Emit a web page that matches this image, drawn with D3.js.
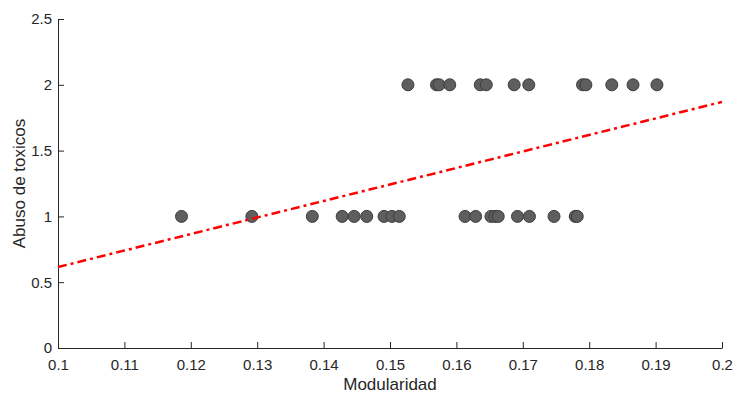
<!DOCTYPE html>
<html>
<head>
<meta charset="utf-8">
<script src="https://cdn.jsdelivr.net/npm/d3@7"></script>
<style>
  body { margin: 0; background: #fff; }
  svg text { font-family: "Liberation Sans", Arial, sans-serif; fill: #262626; }
</style>
</head>
<body>
<div id="chart"></div>
<script>
// modularity values for subjects with score 2
const modHigh = [0.1527, 0.1570, 0.1574, 0.1590, 0.1636, 0.1645, 0.1687, 0.1709,
                 0.1790, 0.1795, 0.1834, 0.1866, 0.1902];
// modularity values for subjects with score 1
const modLow = [0.1186, 0.1292, 0.1383, 0.1428, 0.1446, 0.1465, 0.1491, 0.1503, 0.1514,
                0.1613, 0.1629, 0.1652, 0.1658, 0.1663, 0.1692, 0.1710, 0.1747, 0.1779, 0.1782];
const fitX = [0.1, 0.2];
const fitY = [0.615, 1.87];
const xTicks = [0.1, 0.11, 0.12, 0.13, 0.14, 0.15, 0.16, 0.17, 0.18, 0.19, 0.2];
const yTicks = [0, 0.5, 1, 1.5, 2, 2.5];

const W = 736, H = 394;
const margin = {left: 58, right: 14, top: 19, bottom: 46};

const svg = d3.select('#chart').append('svg')
    .attr('width', W).attr('height', H);

const x = d3.scaleLinear().domain([0.1, 0.2]).range([margin.left, W - margin.right]);
const y = d3.scaleLinear().domain([0, 2.5]).range([H - margin.bottom, margin.top]);

const points = modHigh.map(m => ({m, v: 2})).concat(modLow.map(m => ({m, v: 1})));

// axes
const xAxis = svg.append('g')
    .attr('transform', `translate(0,${y(0)})`)
    .call(d3.axisBottom(x).tickValues(xTicks).tickSizeInner(-6).tickSizeOuter(0)
        .tickPadding(11).tickFormat(d3.format('')));
const yAxis = svg.append('g')
    .attr('transform', `translate(${x(0.1)},0)`)
    .call(d3.axisLeft(y).tickValues(yTicks).tickSizeInner(-6).tickSizeOuter(0)
        .tickPadding(6).tickFormat(d3.format('')));

[xAxis, yAxis].forEach(a => {
    a.select('.domain').attr('stroke', '#262626');
    a.selectAll('.tick line').attr('stroke', '#262626');
    a.selectAll('.tick text').style('font-size', '15px').attr('fill', '#262626');
});

// scatter
svg.append('g').selectAll('circle')
    .data(points)
    .enter()
    .append('circle')
    .attr('cx', d => x(d.m))
    .attr('cy', d => y(d.v))
    .attr('r', 6)
    .attr('fill', '#5e5e5e')
    .attr('stroke', '#3c3c3c')
    .attr('stroke-width', 1);

// fitted line
const line = d3.line().x(d => x(d[0])).y(d => y(d[1]));
svg.append('path')
    .datum(fitX.map((v, i) => [v, fitY[i]]))
    .attr('d', line)
    .attr('fill', 'none')
    .attr('stroke', '#ff0000')
    .attr('stroke-width', 2.5)
    .attr('stroke-dasharray', '9,4,3,4');

// labels
svg.append('text')
    .attr('x', (x(0.1) + x(0.2)) / 2)
    .attr('y', 390)
    .attr('text-anchor', 'middle')
    .style('font-size', '17px')
    .text('Modularidad');

svg.append('text')
    .attr('transform', `translate(25,${(y(0) + y(2.5)) / 2}) rotate(-90)`)
    .attr('text-anchor', 'middle')
    .style('font-size', '17px')
    .text('Abuso de toxicos');
</script>
</body>
</html>
